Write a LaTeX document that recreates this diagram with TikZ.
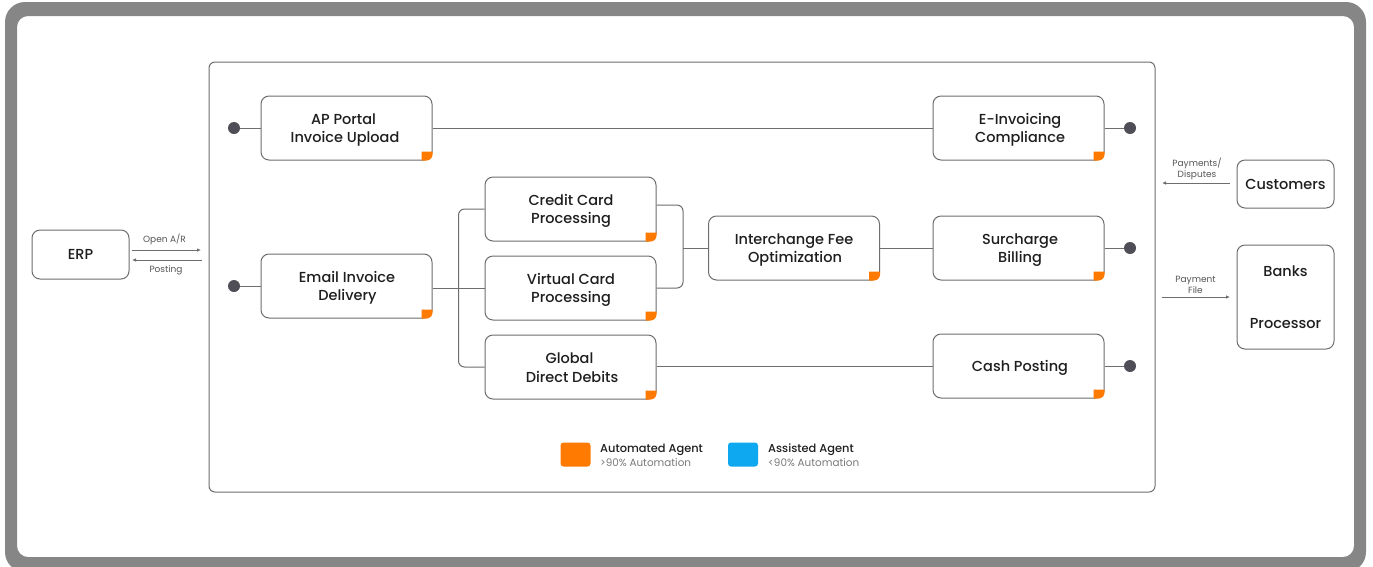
\documentclass[tikz,border=0pt]{standalone}
\usepackage{fontspec}
\setmainfont{Poppins}
\newfontfamily\medfont{Poppins Medium}
\usetikzlibrary{arrows.meta,calc}
\definecolor{frameg}{HTML}{868686}
\definecolor{lineg}{HTML}{6E6E70}
\definecolor{dotc}{HTML}{4F4E57}
\definecolor{agentor}{HTML}{FF7A00}
\definecolor{agentbl}{HTML}{0EA8F0}
\definecolor{inkc}{HTML}{1E1E1E}
\definecolor{subg}{HTML}{7A7A7A}
\tikzset{
  box/.style={draw=lineg,line width=1pt,rounded corners=8pt,fill=white,align=center,text=inkc,
    font=\medfont\fontsize{14.5}{18.5}\selectfont,inner sep=0pt},
  agentbox/.style={box,minimum width=171pt,minimum height=64pt},
  dotn/.style={circle,fill=dotc,minimum size=12pt,inner sep=0pt},
  conn/.style={draw=lineg,line width=1pt,rounded corners=6pt},
  arr/.style={draw=lineg,line width=0.8pt,-{Latex[length=4pt,width=3.5pt]}},
  small/.style={font=\fontsize{9}{10.5}\selectfont,text=inkc!75,align=center,inner sep=0pt},
  swatch/.style={rounded corners=3pt,minimum width=30pt,minimum height=24pt,inner sep=0pt},
  leg1/.style={font=\medfont\fontsize{11.4}{13}\selectfont,text=inkc,anchor=west,inner sep=0pt},
  leg2/.style={font=\fontsize{10.4}{12}\selectfont,text=subg,anchor=west,inner sep=0pt},
}
\newcommand{\agentcorner}[1]{%
  \fill[agentor] ($(#1.south east)+(-11,-9)$) -- ($(#1.south east)+(0,-9)$) -- ($(#1.south east)+(0,-6)$)
     arc[start angle=0,end angle=90,radius=6pt,x radius=6pt,y radius=-6pt] -- ($(#1.south east)+(-11,0)$) -- cycle;}
% two centred lines, nudged sideways by #1 and #2 pt, lowered 2pt
\newcommand{\twolines}[4]{\hspace*{#1pt}\rule{0pt}{15pt}#3\\\hspace*{#2pt}\rule[-3.2pt]{0pt}{3.2pt}#4}
\begin{document}
\begin{tikzpicture}[x=1pt,y=-1pt]
\useasboundingbox (0,0) rectangle (1373,566);
\fill[white] (0,0) rectangle (1373,566);
\fill[frameg,even odd rule] [rounded corners=20pt] (5,2) rectangle (1366,572) [rounded corners=11pt] (17,16) rectangle (1354,557);
\node[draw=lineg,line width=1pt,rounded corners=6pt,minimum width=946pt,minimum height=430pt,inner sep=0pt] (main) at (682,277) {};

\node[agentbox] (ap) at (346.5,128) {\twolines{-6}{-3}{AP Portal}{Invoice Upload}};
\node[agentbox] (einv) at (1018.5,128) {\twolines{3}{3}{E-Invoicing}{Compliance}};
\node[agentbox] (credit) at (570.5,209) {\twolines{1}{1}{Credit Card}{Processing}};
\node[agentbox] (virtual) at (570.5,288) {\twolines{1}{1}{Virtual Card}{Processing}};
\node[agentbox] (global) at (570.5,367) {\twolines{-2}{3}{Global}{Direct Debits}};
\node[agentbox] (inter) at (794,248) {\twolines{0}{2}{Interchange Fee}{Optimization}};
\node[agentbox] (sur) at (1018.5,248) {\twolines{3}{3}{Surcharge}{Billing}};
\node[agentbox] (cash) at (1018.5,366) {\hspace*{3pt}\rule{0pt}{15pt}Cash Posting};
\node[agentbox] (email) at (346.5,286) {\twolines{1}{2}{Email Invoice}{Delivery}};
\foreach \n in {ap,einv,credit,virtual,global,inter,sur,cash,email}{\agentcorner{\n}}

\node[box,minimum width=97pt,minimum height=49pt] (erp) at (80.5,254.5) {ERP};
\node[box,minimum width=97pt,minimum height=48pt] (cust) at (1285.5,184) {Customers};
\node[box,minimum width=97pt,minimum height=104pt,font=\medfont\fontsize{14.5}{51.5}\selectfont] (banks) at (1285.5,297) {Banks\\Processor};

\node[dotn] (d1) at (234,128) {};
\node[dotn] (d2) at (1130,128) {};
\node[dotn] (d3) at (234,286) {};
\node[dotn] (d4) at (1130,248) {};
\node[dotn] (d5) at (1130,366) {};
\draw[conn] (d1) -- (ap);
\draw[conn] (ap) -- (einv);
\draw[conn] (einv) -- (d2);
\draw[conn] (d3) -- (email);
\draw[conn] (sur) -- (d4);
\draw[conn] (cash) -- (d5);
\draw[conn] (inter) -- (sur);
\draw[conn] (global.east |- cash.west) -- (cash.west);
\draw[conn] (email.east |- virtual.west) -- (virtual.west);
\draw[conn] (credit.west) -- ++(-26,0) |- (global.west);
\coordinate (jn) at (683,248);
\draw[conn] ($(credit.east)+(0,-4)$) -| (jn) |- (virtual.east);
\draw[conn] (jn) -- (inter.west);

\coordinate (a1) at (132,250);\coordinate (a2) at (201,250);
\coordinate (a3) at (202,260);\coordinate (a4) at (132,260);
\coordinate (a5) at (1230,183);\coordinate (a6) at (1162,183);
\coordinate (a7) at (1162,297);\coordinate (a8) at (1230,297);
\draw[arr] (a1) -- (a2);
\draw[arr] (a3) -- (a4);
\draw[arr] (a5) -- (a6);
\draw[arr] (a7) -- (a8);
\node[small] (l1) at (164.5,239) {Open A/R};
\node[small] (l2) at (166,270) {Posting};
\node[small] (l3) at (1197,169) {Payments/\\Disputes};
\node[small] (l4) at (1195.5,285) {Payment\\File};

\node[swatch,fill=agentor] (s1) at (575.5,454.5) {};
\node[swatch,fill=agentbl] (s2) at (743,454.5) {};
\node[leg1] (t1) at (600,450) {Automated Agent};
\node[leg2] (t2) at (600,462.5) {>90\% Automation};
\node[leg1] (t3) at (768,450) {Assisted Agent};
\node[leg2] (t4) at (768,462.5) {<90\% Automation};
\end{tikzpicture}
\end{document}
